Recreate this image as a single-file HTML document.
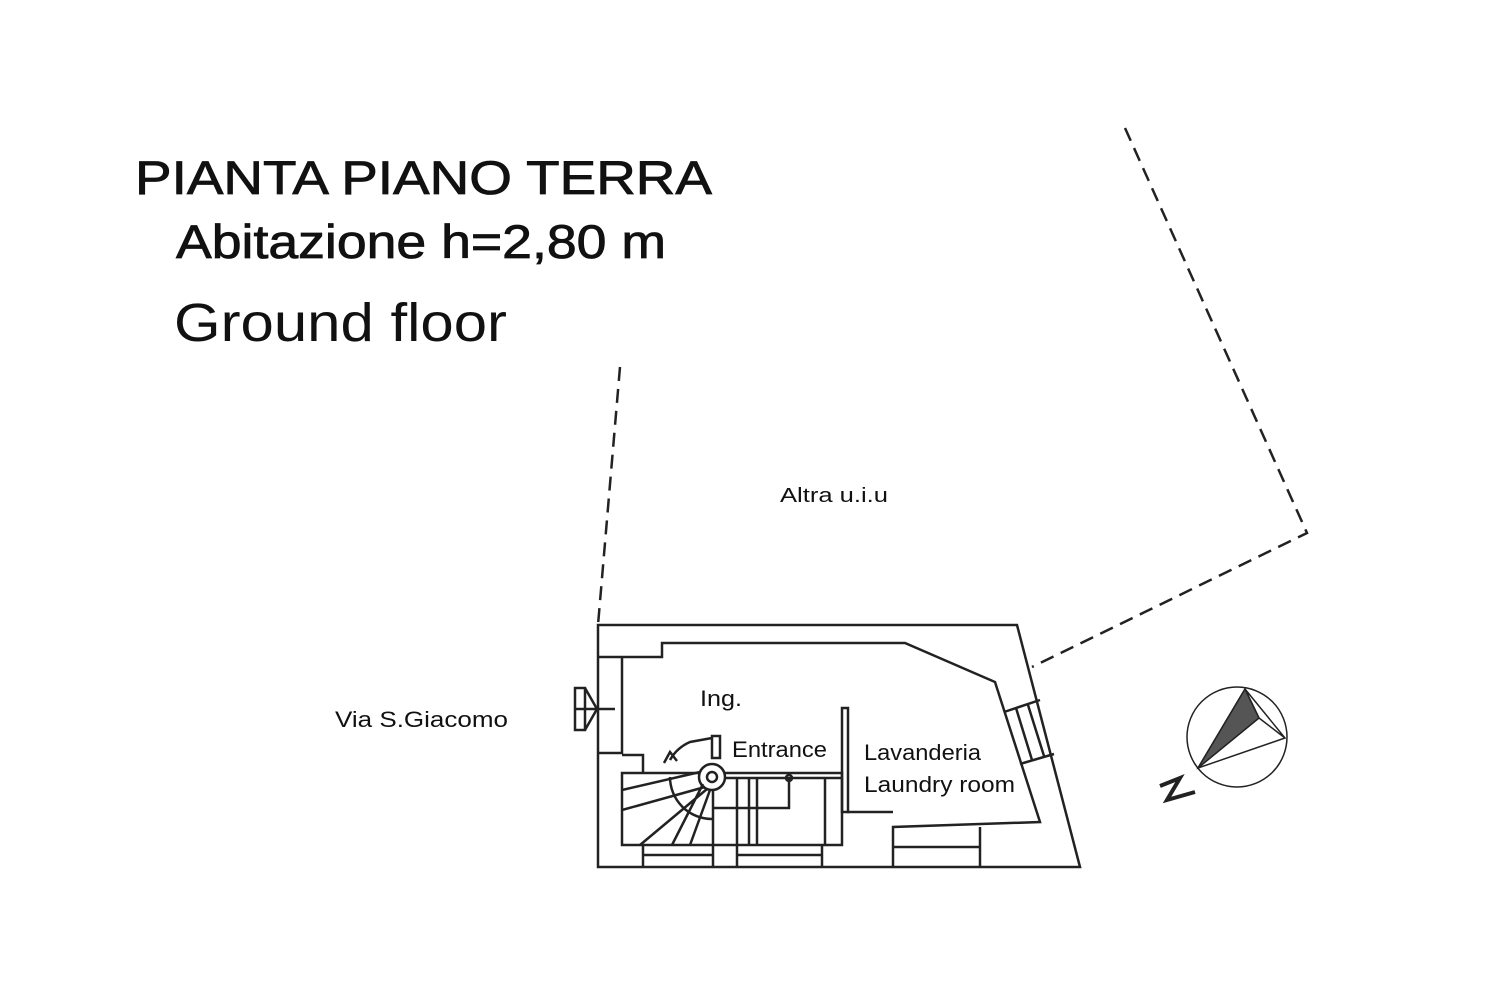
<!DOCTYPE html>
<html><head><meta charset="utf-8"><style>
html,body{margin:0;padding:0;background:#fff;width:1500px;height:1000px;overflow:hidden}
svg{display:block}
text{font-family:"Liberation Sans",sans-serif;fill:#111}
</style></head><body>
<svg width="1500" height="1000" viewBox="0 0 1500 1000" xmlns="http://www.w3.org/2000/svg">
<rect width="1500" height="1000" fill="#fff"/>
<text x="135" y="194" font-size="47" textLength="577" lengthAdjust="spacingAndGlyphs" stroke="#111" stroke-width="0.8">PIANTA PIANO TERRA</text>
<text x="176" y="258" font-size="47" textLength="490" lengthAdjust="spacingAndGlyphs" stroke="#111" stroke-width="0.8">Abitazione h=2,80 m</text>
<text x="174" y="341" font-size="54" textLength="333" lengthAdjust="spacingAndGlyphs" fill="#000">Ground floor</text>
<text x="780" y="502" font-size="20" textLength="108" lengthAdjust="spacingAndGlyphs">Altra u.i.u</text>
<text x="335" y="727" font-size="22" textLength="173" lengthAdjust="spacingAndGlyphs">Via S.Giacomo</text>
<text x="700" y="706" font-size="22" textLength="42" lengthAdjust="spacingAndGlyphs">Ing.</text>
<text x="732" y="757" font-size="22" textLength="95" lengthAdjust="spacingAndGlyphs" fill="#000">Entrance</text>
<text x="864" y="760" font-size="22" textLength="117" lengthAdjust="spacingAndGlyphs" fill="#000">Lavanderia</text>
<text x="864" y="792" font-size="22" textLength="151" lengthAdjust="spacingAndGlyphs" fill="#000">Laundry room</text>
<g fill="none" stroke="#222" stroke-width="2.5" stroke-dasharray="14,8">
<path d="M620 367 L598 625"/>
<path d="M1125 128 L1307 533 L1032 667"/>
</g>
<g fill="none" stroke="#222" stroke-width="2.5">
<path d="M598 625 L1017 625 L1080 867 L598 867 Z"/>
<path d="M598 657 L662 657 L662 643 L905 643 L995 682 L1040 822 L893 827 L893 867"/>
<path d="M893 812 L847 812"/>
<path d="M622 657 L622 753 L598 753"/>
<path d="M980 827 L980 867 M893 847 L980 847"/>
<path d="M1004 712 L1040 700 M1020 764 L1054 754 M1016 708 L1032 760 M1028 705 L1044 756"/>
<rect x="842" y="708" width="6" height="104"/>
<path d="M622 755 L643 755 L643 773 M622 773 L842 773 L842 845 L622 845 Z"/>
<path d="M643 845 L643 867 M713 775 L713 867 M737 845 L737 867 M822 845 L822 867 M643 855 L713 855 M737 855 L822 855"/>
<path d="M737 778 L737 845 M749 778 L749 845 M757 778 L757 845 M825 778 L825 845 M789 778 L789 808 L713 808"/>
<path d="M713 778 L842 778"/>
<circle cx="712" cy="777" r="13" fill="#fff"/>
<circle cx="712" cy="777" r="5"/>
<circle cx="789" cy="778" r="3"/>
<path d="M670 777 A 42 42 0 0 0 712 819"/>
<path d="M705 787 L622 810 M707 789 L640 845 M710 790 L690 845 M703 784 L672 845 M700 772 L622 790"/>
<path d="M670 760 A 42 42 0 0 1 690 742 L712 738 M664 763 L670 752 L677 761"/>
<rect x="712" y="736" width="8" height="22"/>
<path d="M585 688 L585 730 L575 730 L575 688 Z M585 688 L597 709 L585 730 M575 709 L615 709"/>
<circle cx="1237" cy="737" r="50" stroke-width="1.5"/>
<path d="M1245 689 L1285 738 L1198 768 Z M1245 689 L1259 718 L1285 738" stroke-width="1.5"/>
<path d="M1245 689 L1259 718 L1198 768 Z" fill="#555" stroke-width="1.5"/>
<path d="M1160 786 L1180 778 L1167 800 L1195 792" stroke-width="4"/>
</g>
</svg>
</body></html>
